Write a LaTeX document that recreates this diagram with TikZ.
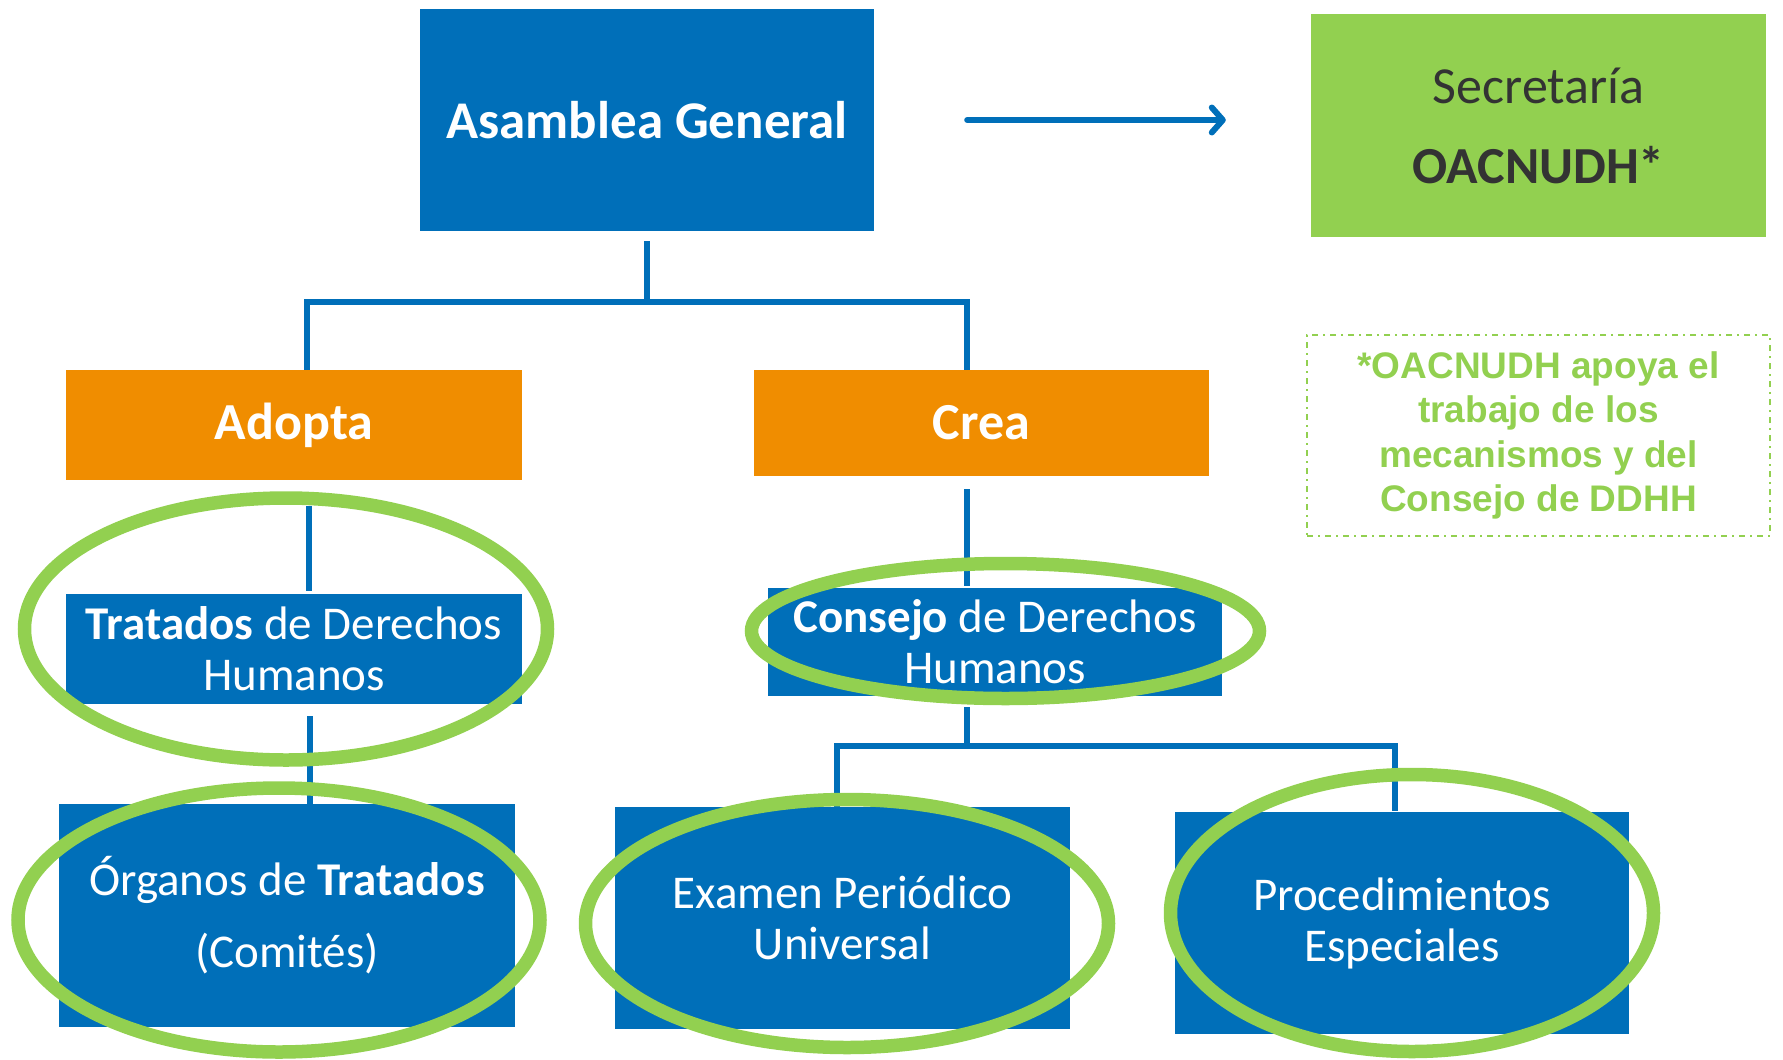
\documentclass[tikz,border=0pt]{standalone}
\usepackage{fontspec}
\setmainfont{Carlito}
\newfontfamily\notefont{Liberation Sans}
\usetikzlibrary{arrows.meta,shapes.geometric}
\definecolor{unblue}{RGB}{0,111,185}
\definecolor{unorange}{RGB}{240,141,0}
\definecolor{ungreen}{RGB}{146,208,80}
\definecolor{ungray}{RGB}{51,51,51}
\begin{document}
\begin{tikzpicture}[x=1pt,y=-1pt,
  box/.style={fill=unblue,text=white,inner sep=0pt,align=center,font=\fontsize{47}{51}\selectfont},
  obox/.style={fill=unorange,text=white,inner sep=0pt,align=center,font=\fontsize{52}{60}\selectfont\bfseries,minimum width=456pt},
  conn/.style={draw=unblue,line width=6pt},
  ell/.style={draw=ungreen,line width=13.5pt,ellipse,inner sep=0pt}]
\useasboundingbox (0,0) rectangle (1783,1060);
% boxes
\node[box,minimum width=454pt,minimum height=222pt,font=\fontsize{53}{60}\selectfont\bfseries] (ag) at (647,120) {Asamblea General};
\node[fill=ungreen,text=ungray,inner sep=0pt,align=center,minimum width=455pt,minimum height=223pt,font=\fontsize{52}{80}\selectfont] (sec) at (1538.5,125.5) {Secretaría\\\textbf{OACNUDH*}};
\node[obox,minimum height=110pt] (ad) at (294,425) {Adopta};
\node[obox,minimum width=455pt,minimum height=106pt] (cr) at (981.5,423) {Crea};
\node[draw=ungreen,line width=2pt,dash pattern=on 6pt off 5pt on 2pt off 5pt,text=ungreen,inner sep=0pt,align=center,minimum width=463pt,minimum height=201pt,font=\notefont\bfseries\fontsize{37}{44.5}\selectfont] (note) at (1538.5,435.5) {*OACNUDH apoya el\\trabajo de los\\mecanismos y del\\Consejo de DDHH};
\node[box,minimum width=456pt,minimum height=110pt] (tr) at (294,649) {\textbf{Tratados} de Derechos\\Humanos};
\node[box,minimum width=456pt,minimum height=223pt] (org) at (287,915.5) {Órganos de \textbf{Tratados}\\[21pt](Comités)};
\node[box,minimum width=454pt,minimum height=108pt] (cdh) at (995,642) {\textbf{Consejo} de Derechos\\Humanos};
\node[box,minimum width=455pt,minimum height=222pt] (epu) at (842.5,918) {Examen Periódico\\Universal};
\node[box,minimum width=454pt,minimum height=222pt] (pe) at (1402,923) {Procedimientos\\Especiales};
% connectors
\coordinate (j1) at (647,302);
\coordinate (adtop) at ([xshift=13pt]ad.north);
\coordinate (crtop) at ([xshift=-14.5pt]cr.north);
\draw[conn] ([yshift=-10pt]ag.south) -- (j1);
\draw[conn] ([xshift=-3pt]j1 -| adtop) -- ([xshift=3pt]j1 -| crtop);
\draw[conn] (adtop |- j1) -- (adtop);
\draw[conn] (crtop |- j1) -- (crtop);
\draw[conn,line cap=round,-{Straight Barb[length=11pt,width=25pt,line cap=round,line join=round]}] ([xshift=93pt]ag.east) -- ([xshift=-85pt]ag.east -| sec.west);
\draw[conn] ([xshift=15pt,yshift=-26pt]ad.south) -- ([xshift=15pt,yshift=3pt]tr.north);
\draw[conn] ([xshift=16pt,yshift=-12pt]tr.south) -- ([xshift=23pt]org.north);
\draw[conn] ([xshift=-14.5pt,yshift=-13pt]cr.south) -- ([xshift=-28pt,yshift=2pt]cdh.north);
\coordinate (j2) at (967,746);
\coordinate (epuTop) at ([xshift=-5.5pt]epu.north);
\coordinate (peTop) at ([xshift=-7pt,yshift=1pt]pe.north);
\draw[conn] ([xshift=-28pt,yshift=-11pt]cdh.south) -- (j2);
\draw[conn] ([xshift=-3pt]j2 -| epuTop) -- ([xshift=3pt]j2 -| peTop);
\draw[conn] (epuTop |- j2) -- (epuTop);
\draw[conn] (peTop |- j2) -- (peTop);
% ellipses
\node[ell,minimum width=523pt,minimum height=262pt] (e1) at (286,629) {};
\node[ell,minimum width=522pt,minimum height=264pt] (e2) at (279,920) {};
\node[ell,minimum width=508pt,minimum height=135pt] (e3) at (1005.5,631) {};
\node[ell,minimum width=523pt,minimum height=248pt] (e4) at (847,923.5) {};
\node[ell,minimum width=483pt,minimum height=277pt] (e5) at (1412,913) {};
\end{tikzpicture}
\end{document}
